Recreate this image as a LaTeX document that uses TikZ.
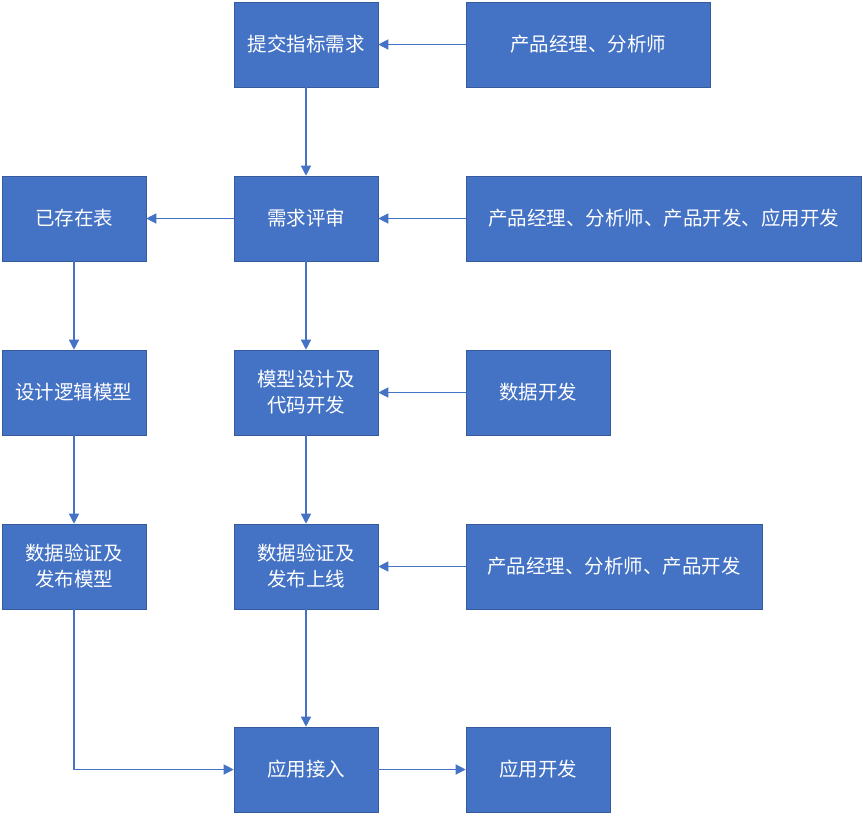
\documentclass[tikz,border=0pt]{standalone}
\usepackage{fontspec}
\setmainfont{Noto Sans CJK SC}
\usetikzlibrary{arrows.meta}
\definecolor{boxblue}{HTML}{4472C4}
\tikzset{
  box/.style={fill=boxblue, draw=boxblue!80!black, line width=0.6pt, text=white, align=center,
    minimum height=85pt, font=\fontsize{19.5}{26}\selectfont, inner sep=0pt},
  flow/.style={draw=boxblue, line width=1.3pt, -{Triangle[length=10pt,width=10pt]}}
}
\begin{document}
\begin{tikzpicture}[x=1pt,y=-1pt]
\useasboundingbox (0,0) rectangle (863,815);
% left column
\node (exist) [box, minimum width=144pt] at (74,218.5) {已存在表};
\node (logic) [box, minimum width=144pt] at (74,392.5) {设计逻辑模型};
\node (pubm)  [box, minimum width=144pt] at (74,566.5) {数据验证及\\发布模型};
% middle column
\node (req)    [box, minimum width=144pt] at (306,44.5) {提交指标需求};
\node (review) [box, minimum width=144pt] at (306,218.5) {需求评审};
\node (model)  [box, minimum width=144pt] at (306,392.5) {模型设计及\\代码开发};
\node (online) [box, minimum width=144pt] at (306,566.5) {数据验证及\\发布上线};
\node (apply)  [box, minimum width=144pt] at (306,769.5) {应用接入};
% roles
\node (r1) [box, minimum width=244pt] at (588,44.5) {产品经理、分析师};
\node (r2) [box, minimum width=395pt] at (663.5,218.5) {产品经理、分析师、产品开发、应用开发};
\node (r3) [box, minimum width=144pt] at (538,392.5) {数据开发};
\node (r4) [box, minimum width=296pt] at (614,566.5) {产品经理、分析师、产品开发};
\node (r5) [box, minimum width=144pt] at (538,769.5) {应用开发};
% connectors
\draw [flow] (r1) -- (req);
\draw [flow] (r2) -- (review);
\draw [flow] (r3) -- (model);
\draw [flow] (r4) -- (online);
\draw [flow] (req) -- (review);
\draw [flow] (review) -- (model);
\draw [flow] (model) -- (online);
\draw [flow] (online) -- (apply);
\draw [flow] (review) -- (exist);
\draw [flow] (exist) -- (logic);
\draw [flow] (logic) -- (pubm);
\draw [flow] (pubm) |- (apply);
\draw [flow] (apply) -- (r5);
\end{tikzpicture}
\end{document}
